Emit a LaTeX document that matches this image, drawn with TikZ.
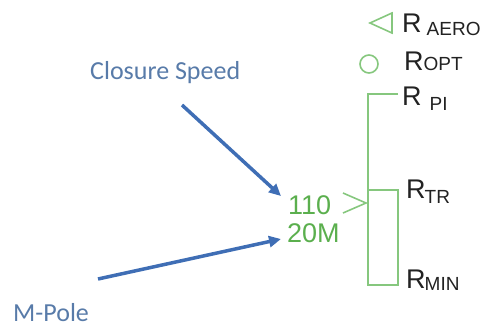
\documentclass[tikz,border=0pt]{standalone}
\usepackage{fontspec}
\setmainfont{Liberation Sans}
\newfontfamily\notefont{Carlito}
\usetikzlibrary{arrows.meta}
\definecolor{scalegreen}{HTML}{86C77E}
\definecolor{readgreen}{HTML}{5BAF4E}
\definecolor{calloutblue}{HTML}{3F6EB5}
\definecolor{noteblue}{HTML}{587BA9}
\definecolor{labeldark}{HTML}{222222}

% R with a smaller, shifted index
\newcommand{\rangelab}[3]{R\hspace{#2}\raisebox{-#3}{\fontsize{19}{19}\selectfont #1}}

\begin{document}
\begin{tikzpicture}[
    x=1pt, y=-1pt,
    scaleline/.style={scalegreen, line width=1.6pt},
    callout/.style={calloutblue, line width=3.5pt, -{Triangle[length=12pt, width=11pt]}},
    note/.style={font=\notefont\fontsize{26}{26}\selectfont, text=noteblue, inner sep=0pt, anchor=base west},
    rlab/.style={font=\fontsize{27}{27}\selectfont, text=labeldark, inner sep=0pt, anchor=base west},
    readout/.style={font=\fontsize{27}{27}\selectfont, text=readgreen, inner sep=0pt, anchor=base west}
]

% 1. Canvas (pixel grid, y down)
\useasboundingbox (0,0) rectangle (482,330);

% 2. Range scale
\coordinate (PItop) at (368,94);
\coordinate (PIend) at (398,94);
\coordinate (ScaleBot) at (368,285);
\draw[scaleline] (PIend) -- (PItop) -- (ScaleBot);
\draw[scaleline] (368,190) rectangle (398,285);

% 3. Markers
\draw[scaleline] (392,13) -- (370,23) -- (392,33) -- cycle;
\draw[scaleline] (369,64) circle (9pt);
\draw[scaleline] (343,193) -- (366,203) -- (343,213);

% 4. Range labels
\node[rlab] (Raero) at (402,32) {\rangelab{AERO}{5pt}{3pt}};
\node[rlab] (Ropt) at (404,70) {\rangelab{OPT}{0pt}{0pt}};
\node[rlab] (Rpi) at (402,105) {\rangelab{PI}{8pt}{5pt}};
\node[rlab] (Rtr) at (406,198) {\rangelab{TR}{-1pt}{5pt}};
\node[rlab] (Rmin) at (406,288) {\rangelab{MIN}{-1pt}{2pt}};

% 5. Readouts
\node[readout] (Speed) at (288,214) {110};
\node[readout] (Pole) at (287,242) {20M};

% 6. Callouts
\node[note] (SpeedNote) at (90,79) {Closure Speed};
\node[note] (PoleNote) at (13,321) {M-Pole};
\coordinate (SpeedTail) at (182,105);
\coordinate (SpeedHead) at (281,196);
\coordinate (PoleTail) at (98,279);
\coordinate (PoleHead) at (281,239);
\draw[callout] (SpeedTail) -- (SpeedHead);
\draw[callout] (PoleTail) -- (PoleHead);

\end{tikzpicture}
\end{document}
